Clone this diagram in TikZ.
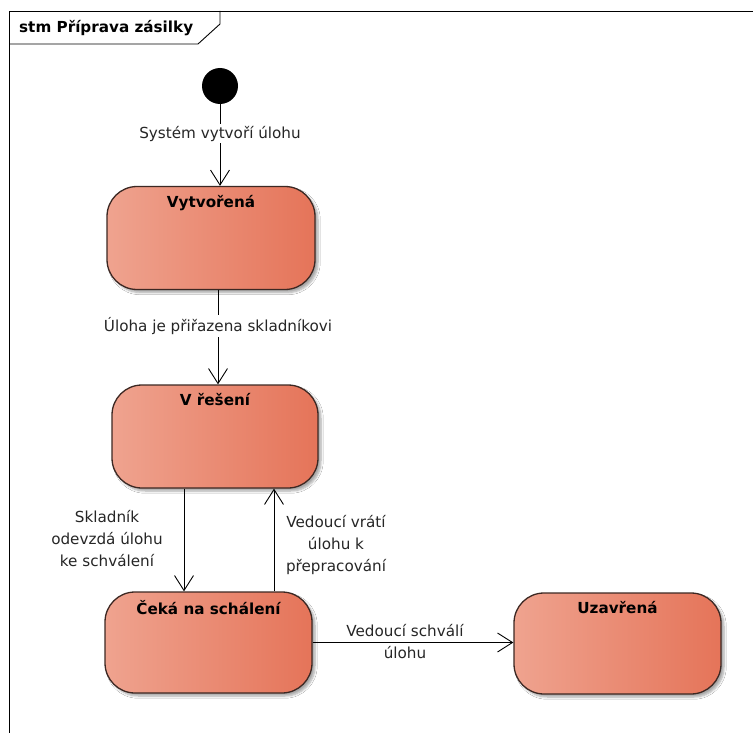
\documentclass[tikz,border=0pt]{standalone}
\usepackage{fontspec}
\setmainfont{DejaVu Sans}
\usetikzlibrary{arrows.meta,shadows.blur,calc}
\begin{document}
\begin{tikzpicture}[x=1pt,y=-1pt,
  font=\fontsize{15.2}{22}\selectfont,
  statebox/.style={draw={rgb,255:red,60;green,40;blue,35}, line width=1.3pt,
    rounded corners=30pt, minimum width=#1, minimum height=103pt,
    inner sep=0pt, shading=axis, shading angle=90,
    left color={rgb,255:red,239;green,163;blue,143},
    right color={rgb,255:red,229;green,116;blue,89},
    blur shadow={shadow xshift=3pt, shadow yshift=-3pt, shadow blur steps=6, shadow opacity=35}},
  statebox/.default=207pt,
  title/.style={anchor=north, font=\fontsize{15.2}{22}\selectfont\bfseries, inner sep=2pt, yshift=-7pt},
  trans/.style={draw=black, line width=0.9pt, -{Straight Barb[length=15pt,width=19pt,line width=0.9pt]}},
  tlabel/.style={fill=white, inner sep=2pt, align=center, text=black!85},
  plabel/.style={inner sep=1pt, align=center, text=black!85}]
\useasboundingbox (0,0) rectangle (753,733);
\fill[white] (0,0) rectangle (753,733);

% diagram frame with its name tab
\draw[line width=0.9pt] (9,733) -- (9,11) -- (753,11);
\draw[line width=0.9pt] (9,44) -- (198,44) -- (220,24) -- (220,11);
\node[anchor=west, font=\fontsize{15.2}{22}\selectfont\bfseries, inner sep=0pt] (frametitle) at (19,28) {stm Příprava zásilky};

% states
\node[circle, fill=black, minimum size=36pt, inner sep=0pt] (init) at (220,86) {};
\node[statebox=208pt] (vytv) at (211,238) {};
\node[title] (vytvT) at (vytv.north) {Vytvořená};
\node[statebox=206pt] (resen) at (215,436.5) {};
\node[title] (resenT) at (resen.north) {V řešení};
\node[statebox=207pt, minimum height=101pt] (ceka) at (208.5,642.5) {};
\node[title] (cekaT) at (ceka.north) {Čeká na schálení};
\node[statebox=207pt, minimum height=101pt] (uzav) at (617.5,643.5) {};
\node[title] (uzavT) at (uzav.north) {Uzavřená};

% transitions
\draw[trans] (init.south) -- (init.south |- vytv.north)
  node[tlabel, pos=0.36] (l1) {Systém vytvoří úlohu};
\draw[trans] ([xshift=7pt]vytv.south) -- ([xshift=3pt]resen.north)
  node[tlabel, pos=0.38] (l2) {Úloha je přiřazena skladníkovi};
\draw[trans] ([xshift=-31pt]resen.south) -- ([xshift=-24.5pt]ceka.north);
\node[plabel] (l3) at (107,539) {Skladník\\odevzdá úlohu\\ke schválení};
\draw[trans] ([xshift=65.5pt]ceka.north) -- ([xshift=59pt]resen.south);
\node[plabel] (l4) at (336,545) {Vedoucí vrátí\\úlohu k\\přepracování};
\draw[trans] (ceka.east) -- (ceka.east -| uzav.west);
\node[plabel] (l5a) at (405,631) {Vedoucí schválí};
\node[tlabel] (l5b) at (405,653) {úlohu};
\end{tikzpicture}
\end{document}
